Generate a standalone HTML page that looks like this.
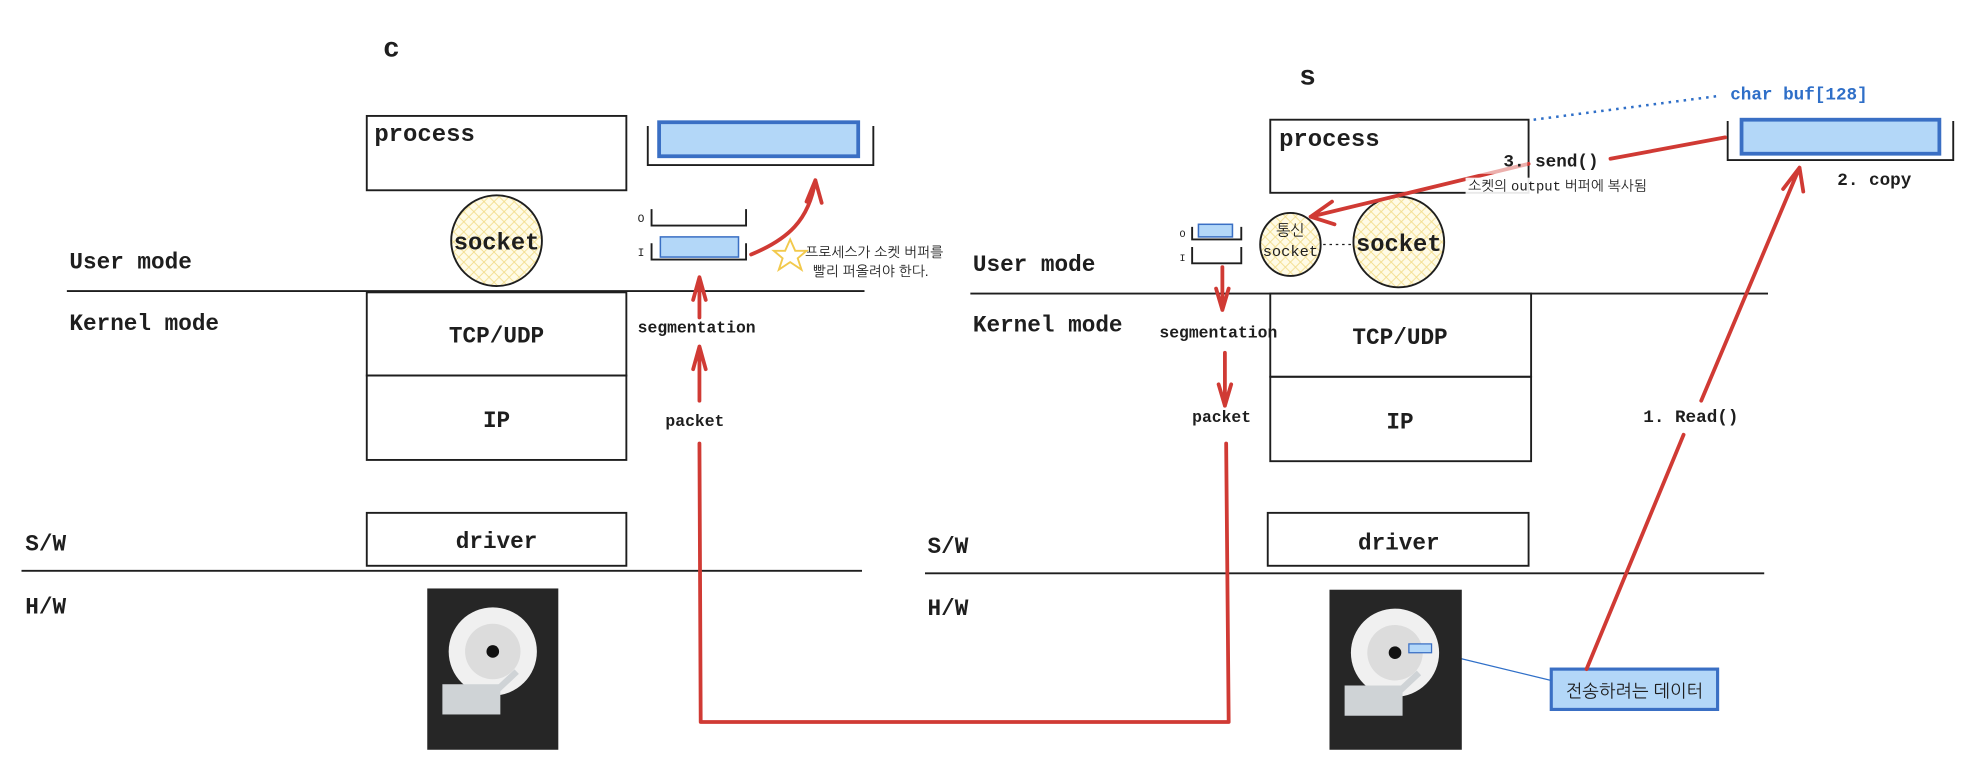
<!DOCTYPE html>
<html><head><meta charset="utf-8"><style>
html,body{margin:0;padding:0;background:#fff;}
svg{display:block;}
text{font-family:"Liberation Mono","NanumGothic","Noto Sans CJK KR",monospace;fill:#1e1e1e;}
.k{font-family:"Liberation Sans","NanumGothic","Noto Sans CJK KR",sans-serif;}
</style></head><body>
<svg width="1976" height="780" viewBox="0 0 1568 619" xmlns="http://www.w3.org/2000/svg">
<defs>
<pattern id="hatch" width="8" height="8" patternUnits="userSpaceOnUse">
<rect width="8" height="8" fill="#fffbe6"/>
<path d="M0 0L8 8M8 0L0 8" stroke="#f2dc8a" stroke-width="0.7"/>
</pattern>
</defs>
<g fill="none" stroke="#1e1e1e" stroke-width="1.5">
<rect x="291" y="92" width="206" height="59"/>
<path d="M514 100V131H693V100"/>
<rect x="291" y="232" width="206" height="66"/>
<rect x="291" y="298" width="206" height="67"/>
<rect x="291" y="407" width="206" height="42"/>
<path d="M53 231H686M17 453H684"/>
<path d="M517 166V179H592V166M517 193V206H592V193"/>
<rect x="1008" y="95" width="205" height="58"/>
<path d="M1371 96V127H1550V96"/>
<rect x="1008" y="233" width="207" height="66"/>
<rect x="1008" y="299" width="207" height="67"/>
<rect x="1006" y="407" width="207" height="42"/>
<path d="M770 233H1403M734 455H1400"/>
<path d="M946 180V190H985V180M946 196V209H985V196"/>
</g>
<g fill="#b3d7f8" stroke="#3a6fc4">
<rect x="523" y="97" width="158" height="27" stroke-width="3"/>
<rect x="524" y="188" width="62" height="16" stroke-width="1.2"/>
<rect x="1382" y="95" width="157" height="27" stroke-width="3"/>
<rect x="951" y="178" width="27" height="10" stroke-width="1.2"/>
<rect x="1231" y="531" width="132" height="32" stroke-width="2.5"/>
</g>
<g fill="url(#hatch)" stroke="#1e1e1e" stroke-width="1.5">
<ellipse cx="394" cy="191" rx="36" ry="36"/>
<ellipse cx="1110" cy="192" rx="36" ry="36"/>
<ellipse cx="1024" cy="194" rx="24" ry="25"/>
</g>
<path d="M1050 194H1075" stroke="#1e1e1e" stroke-dasharray="2 3"/>
<path d="M1217 95L1365 76" stroke="#2f6fc8" stroke-width="2" stroke-dasharray="2 4"/>
<path d="M1136 517L1231 540" stroke="#2f6fc8" stroke-width="1"/>
<g>
<rect x="339" y="467" width="104" height="128" fill="#262626"/>
<circle cx="391" cy="517" r="35" fill="#f0f0f0"/>
<circle cx="391" cy="517" r="22" fill="#dcdcdc"/>
<circle cx="391" cy="517" r="5" fill="#111"/>
<path d="M395 547L410 533" stroke="#cfd3d6" stroke-width="5"/>
<rect x="351" y="543" width="46" height="24" fill="#cfd3d6"/>
<rect x="1055" y="468" width="105" height="127" fill="#262626"/>
<circle cx="1107" cy="518" r="35" fill="#f0f0f0"/>
<circle cx="1107" cy="518" r="22" fill="#dcdcdc"/>
<circle cx="1107" cy="518" r="5" fill="#111"/>
<path d="M1111 548L1126 534" stroke="#cfd3d6" stroke-width="5"/>
<rect x="1067" y="544" width="46" height="24" fill="#cfd3d6"/>
<rect x="1118" y="511" width="18" height="7" fill="#b3d7f8" stroke="#3a6fc4"/>
</g>
<g fill="none" stroke="#d03a34" stroke-width="3" stroke-linecap="round" stroke-linejoin="round">
<path d="M596 202C625 190 642 175 647 143M640 160L647 143L652 161"/>
<path d="M555 252V220M550 238L555 220L560 238"/>
<path d="M555 318V275M550 293L555 275L560 293"/>
<path d="M555 352L556 573H975L973 352"/>
<path d="M970 212V246M965 229L970 246L975 229"/>
<path d="M972 280V322M967 305L972 322L977 305"/>
<path d="M1369 109L1278 126"/>
<path d="M1213 130L1040 172M1057 160L1040 172L1059 178" />
<path d="M1259 531L1336 345M1350 318L1428 133M1415 150L1428 133L1431 152"/>
</g>
<rect x="1163" y="141" width="160" height="14" fill="#fff" opacity="0.9"/>
<rect x="1120" y="118" width="92" height="20" fill="#fff" opacity="0.6"/>
<path d="M627 190L631 199L640 199L633 205L636 214L627 208L618 214L621 205L614 199L623 199Z" fill="none" stroke="#f2c94c" stroke-width="1.5"/>
<g font-weight="bold">
<text x="304" y="45" font-size="22">c</text>
<text x="1031" y="67" font-size="22">s</text>
</g>
<text x="297" y="112" font-size="19" font-weight="bold">process</text>
<text x="1015" y="116" font-size="19" font-weight="bold">process</text>
<text x="394" y="198" font-size="19" font-weight="bold" text-anchor="middle" textLength="68" lengthAdjust="spacingAndGlyphs">socket</text>
<text x="1110" y="199" font-size="19" font-weight="bold" text-anchor="middle" textLength="68" lengthAdjust="spacingAndGlyphs">socket</text>
<text x="1024" y="187" font-size="12" text-anchor="middle" class="k">통신</text>
<text x="1024" y="203" font-size="12" text-anchor="middle" textLength="44" lengthAdjust="spacingAndGlyphs">socket</text>
<text x="506" y="176" font-size="9">O</text>
<text x="506" y="203" font-size="9">I</text>
<text x="936" y="188" font-size="8">O</text>
<text x="936" y="207" font-size="8">I</text>
<text x="639" y="204" font-size="11" class="k">프로세스가 소켓 버퍼를</text>
<text x="645" y="219" font-size="11" class="k">빨리 퍼올려야 한다.</text>
<text x="55" y="213" font-size="18" font-weight="bold">User mode</text>
<text x="55" y="262" font-size="18" font-weight="bold">Kernel mode</text>
<text x="772" y="215" font-size="18" font-weight="bold">User mode</text>
<text x="772" y="263" font-size="18" font-weight="bold">Kernel mode</text>
<text x="394" y="272" font-size="18" font-weight="bold" text-anchor="middle">TCP/UDP</text>
<text x="394" y="339" font-size="18" font-weight="bold" text-anchor="middle">IP</text>
<text x="1111" y="273" font-size="18" font-weight="bold" text-anchor="middle">TCP/UDP</text>
<text x="1111" y="340" font-size="18" font-weight="bold" text-anchor="middle">IP</text>
<text x="394" y="435" font-size="18" font-weight="bold" text-anchor="middle">driver</text>
<text x="1110" y="436" font-size="18" font-weight="bold" text-anchor="middle">driver</text>
<text x="20" y="437" font-size="18" font-weight="bold">S/W</text>
<text x="20" y="487" font-size="18" font-weight="bold">H/W</text>
<text x="736" y="439" font-size="18" font-weight="bold">S/W</text>
<text x="736" y="488" font-size="18" font-weight="bold">H/W</text>
<text x="506" y="264" font-size="13" font-weight="bold">segmentation</text>
<text x="528" y="338" font-size="13" font-weight="bold">packet</text>
<text x="920" y="268" font-size="13" font-weight="bold">segmentation</text>
<text x="946" y="335" font-size="13" font-weight="bold">packet</text>
<text x="1373" y="79" font-size="14" font-weight="bold" style="fill:#2f6fc8">char buf[128]</text>
<text x="1458" y="147" font-size="14" font-weight="bold">2. copy</text>
<text x="1193" y="132" font-size="14" font-weight="bold">3. send()</text>
<text x="1165" y="151" font-size="11" class="k">소켓의 <tspan style="font-family:'Liberation Mono',monospace">output</tspan> 버퍼에 복사됨</text>
<text x="1304" y="335" font-size="14" font-weight="bold">1. Read()</text>
<text x="1297" y="553" font-size="14" text-anchor="middle" class="k">전송하려는 데이터</text>
</svg>
</body></html>
